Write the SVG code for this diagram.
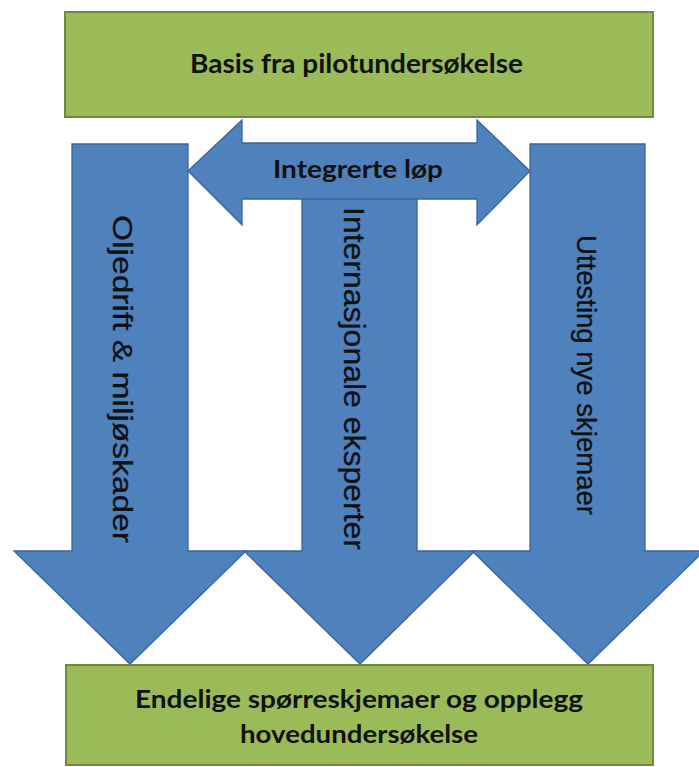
<svg xmlns="http://www.w3.org/2000/svg" width="699" height="767" viewBox="0 0 699 767">
<style>
.box{fill:#9BBB59;stroke:#71893F;stroke-width:2}
.arr{fill:#4F81BD;stroke:#3A6597;stroke-width:1.3;stroke-linejoin:miter}
.bt{font-family:Lato,"Open Sans","Liberation Sans",sans-serif;font-weight:bold;font-size:25px;fill:#111}
.vt{font-family:"Liberation Sans",Arial,sans-serif;font-size:28px;fill:#111;stroke:#111;stroke-width:0.3}
</style>
<rect width="699" height="767" fill="#ffffff"/>
<g id="connectors">
  <g id="arrow-olje">
    <polygon class="arr" points="72,144 188,144 188,551 246,551 130,664 14,551 72,551"/>
    <text class="vt" transform="translate(113,215) rotate(90)" textLength="328" lengthAdjust="spacingAndGlyphs">Oljedrift  &amp; miljøskader</text>
  </g>
  <g id="arrow-intern">
    <polygon class="arr" points="302,144 417,144 417,551 475,551 360,664 244,551 302,551"/>
    <text class="vt" style="font-size:30px" transform="translate(344,207) rotate(90)" textLength="343" lengthAdjust="spacingAndGlyphs">Internasjonale eksperter</text>
  </g>
  <g id="arrow-uttest">
    <polygon class="arr" points="530,144 645,144 645,551 704,551 588,664 472,551 530,551"/>
    <text class="vt" transform="translate(577,235) rotate(90)" textLength="280" lengthAdjust="spacingAndGlyphs">Uttesting nye skjemaer</text>
  </g>
  <g id="arrow-integrert">
    <polygon class="arr" points="188,171 242,120 242,143 477,143 477,120 530,171 477,225 477,199 242,199 242,225"/>
    <text class="bt" x="273" y="178" textLength="170" lengthAdjust="spacingAndGlyphs">Integrerte løp</text>
  </g>
</g>
<g id="node-basis">
  <rect class="box" x="65" y="12" width="588" height="105"/>
  <text class="bt" style="font-size:26px" x="190" y="73" textLength="333" lengthAdjust="spacingAndGlyphs">Basis fra pilotundersøkelse</text>
</g>
<g id="node-endelige">
  <rect class="box" x="66" y="665" width="587" height="100"/>
  <text class="bt" x="135" y="708" textLength="448" lengthAdjust="spacingAndGlyphs">Endelige spørreskjemaer og opplegg</text>
  <text class="bt" x="240" y="743" textLength="238" lengthAdjust="spacingAndGlyphs">hovedundersøkelse</text>
</g>
</svg>
